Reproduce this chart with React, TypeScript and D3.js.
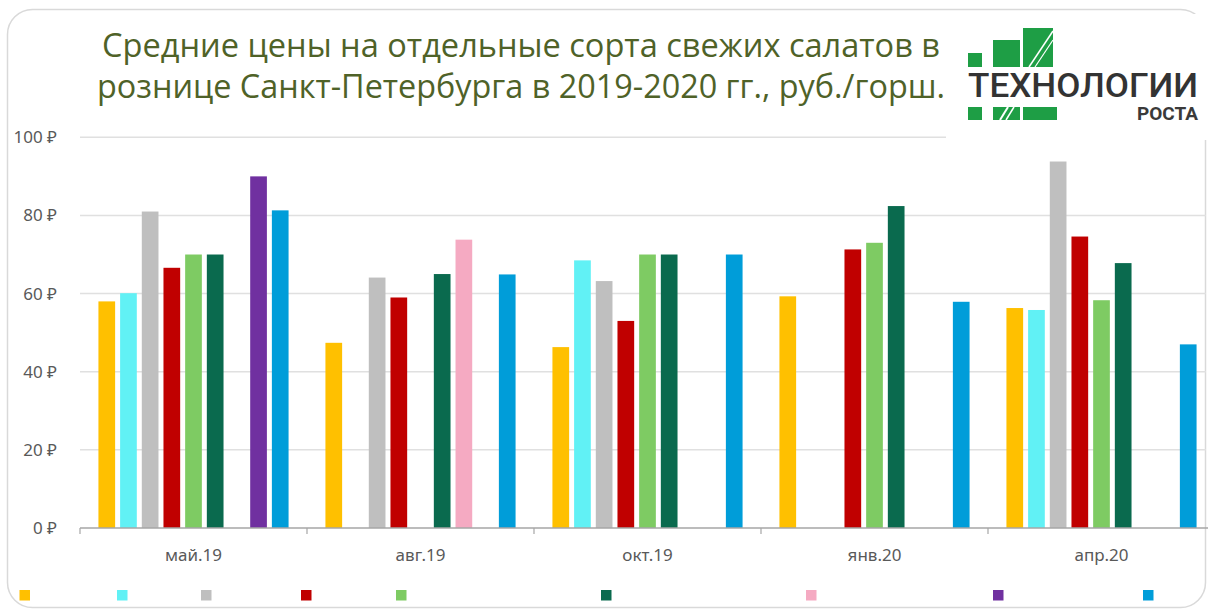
import React from "react";
import * as d3 from "d3";

const categories = ["май.19", "авг.19", "окт.19", "янв.20", "апр.20"];
const seriesKeys = ["s1", "s2", "s3", "s4", "s5", "s6", "s7", "s8", "s9"];
const seriesColors = ["#FFC000", "#61F1F5", "#BFBFBF", "#C00000", "#7ECB63", "#0A6A4E", "#F5AAC2", "#7030A0", "#009DD9"];
const s1 = [58.0, 47.4, 46.3, 59.3, 56.3];
const s2 = [60.1, null, 68.5, null, 55.8];
const s3 = [81.0, 64.1, 63.2, null, 93.8];
const s4 = [66.6, 59.0, 53.0, 71.3, 74.6];
const s5 = [70.0, null, 70.0, 73.0, 58.3];
const s6 = [70.0, 65.0, 70.0, 82.4, 67.8];
const s7 = [null, 73.8, null, null, null];
const s8 = [90.0, null, null, null, null];
const s9 = [81.3, 64.9, 70.0, 57.9, 47.0];
const seriesValues = [s1, s2, s3, s4, s5, s6, s7, s8, s9];
const yTicks = [0, 20, 40, 60, 80, 100];
const titleLines = [
  "Средние цены на отдельные сорта свежих салатов в",
  "рознице Санкт-Петербурга в 2019-2020 гг., руб./горш.",
];

// layout
const W = 1208;
const H = 610;
const legendX = [19.5, 117, 201, 301, 396, 601, 806, 993, 1143];

export default function App() {
  const x0 = d3.scaleBand<string>().domain(categories).range([80, 1215]).padding(0);
  const x1 = d3
    .scaleBand<string>()
    .domain(seriesKeys)
    .range([0, x0.bandwidth()])
    .paddingInner(0.23)
    .paddingOuter(0.85);
  const y = d3.scaleLinear().domain([0, 100]).range([528, 137.3]);
  const font = "'Noto Sans', 'Open Sans', sans-serif";

  return (
    <svg
      width={W}
      height={H}
      style={{ position: "absolute", left: 0, top: 0, display: "block", background: "#fff" }}
    >
      <rect x={0} y={0} width={W} height={H} fill="#fff" />
      {/* card border */}
      <rect x={7.5} y={9.5} width={1198} height={598} rx={25} ry={25} fill="none" stroke="#d9d9d9" strokeWidth={1.5} />

      {/* gridlines */}
      {yTicks.slice(1).map((t) => (
        <line key={t} x1={80} x2={1206} y1={y(t)} y2={y(t)} stroke="#e0e0e0" strokeWidth={1.5} />
      ))}

      {/* y labels */}
      {yTicks.map((t) => (
        <text
          key={t}
          x={57}
          y={y(t) + 6}
          textAnchor="end"
          fontFamily={font}
          fontSize={17}
          fill="#595959"
        >
          {`${t} ₽`}
        </text>
      ))}

      {/* bars */}
      {categories.map((c, ci) => (
        <g key={c} transform={`translate(${x0(c)},0)`}>
          {seriesKeys.map((k, si) => {
            const v = seriesValues[si][ci];
            if (v == null) return null;
            return (
              <rect
                key={k}
                x={x1(k)}
                y={y(v)}
                width={x1.bandwidth()}
                height={y(0) - y(v)}
                fill={seriesColors[si]}
              />
            );
          })}
        </g>
      ))}

      {/* x axis */}
      <line x1={80} x2={1215} y1={y(0)} y2={y(0)} stroke="#a6a6a6" strokeWidth={1.5} />
      {categories.map((c) => (
        <line key={c} x1={x0(c)} x2={x0(c)} y1={y(0)} y2={y(0) + 6} stroke="#a6a6a6" strokeWidth={1.2} />
      ))}
      {categories.map((c) => (
        <text
          key={c}
          x={(x0(c) as number) + x0.bandwidth() / 2}
          y={561}
          textAnchor="middle"
          fontFamily={font}
          fontSize={17}
          fill="#595959"
        >
          {c}
        </text>
      ))}

      {/* legend */}
      {seriesKeys.map((k, i) => (
        <rect key={k} x={legendX[i]} y={590} width={10.5} height={10.5} fill={seriesColors[i]} />
      ))}

      {/* logo */}
      <g>
        <rect x={946} y={14} width={262} height={126} fill="#fff" />
        <rect x={968} y={53} width={14} height={14} fill="#1E9E45" />
        <rect x={993} y={40} width={27} height={27} fill="#1E9E45" />
        <rect x={1023} y={28} width={30} height={39} fill="#1E9E45" />
        <line x1={1029} y1={67} x2={1053} y2={31} stroke="#fff" strokeWidth={1.5} />
        <line x1={1035} y1={67} x2={1053} y2={40} stroke="#fff" strokeWidth={1.2} />
        <text
          x={968}
          y={97}
          fontFamily="'Liberation Sans Narrow', 'Roboto', 'Noto Sans', sans-serif"
          fontWeight={500}
          fontSize={33}
          fill="#333"
          textLength={230}
          lengthAdjust="spacingAndGlyphs"
        >
          ТЕХНОЛОГИИ
        </text>
        <rect x={968} y={107} width={14} height={13} fill="#1E9E45" />
        <rect x={993} y={107} width={27} height={13} fill="#1E9E45" />
        <line x1={1000} y1={120} x2={1008} y2={107} stroke="#fff" strokeWidth={2} />
        <line x1={1006} y1={120} x2={1014} y2={107} stroke="#fff" strokeWidth={1.5} />
        <rect x={1023} y={107} width={34} height={13} fill="#1E9E45" />
        <text
          x={1137}
          y={120}
          fontFamily="'Roboto', 'Noto Sans', sans-serif"
          fontWeight={700}
          fontSize={18}
          fill="#3a3a3a"
          textLength={61}
          lengthAdjust="spacingAndGlyphs"
        >
          РОСТА
        </text>
      </g>

      {/* title */}
      {titleLines.map((t, i) => (
        <text
          key={i}
          x={521}
          y={57 + i * 41}
          textAnchor="middle"
          fontFamily="'Open Sans', 'Noto Sans', sans-serif"
          fontSize={32}
          fill="#4F6228"
          textLength={i === 0 ? 838 : 848}
          lengthAdjust="spacingAndGlyphs"
        >
          {t}
        </text>
      ))}
    </svg>
  );
}
